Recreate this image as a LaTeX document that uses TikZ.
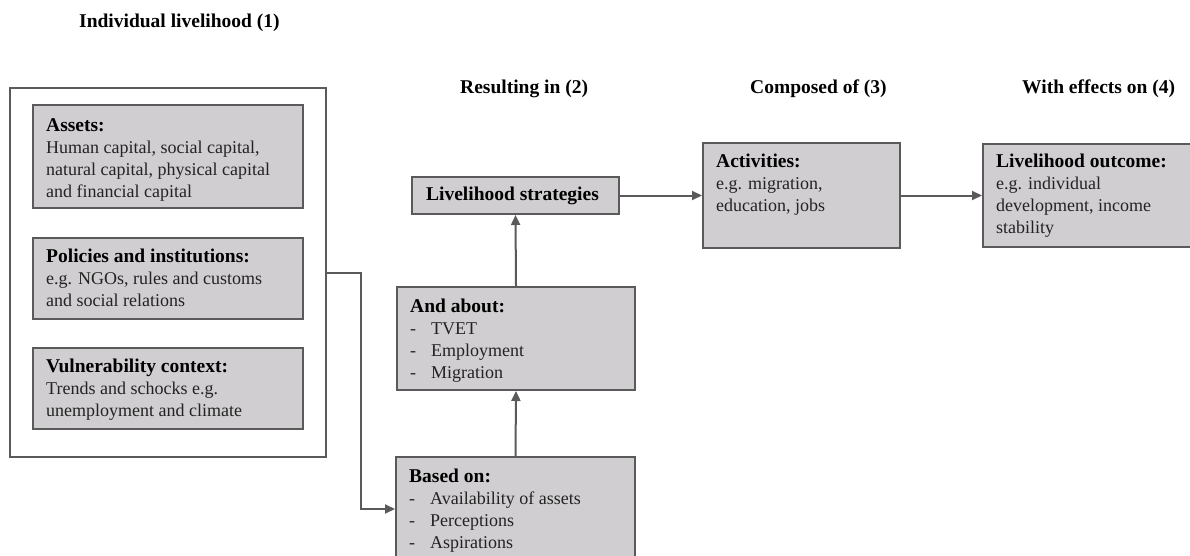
\documentclass[tikz,border=0pt]{standalone}
\usepackage{fontspec}
\setmainfont{Liberation Serif}
\usetikzlibrary{arrows.meta,calc}
\definecolor{boxfill}{RGB}{208,206,208}
\definecolor{boxline}{RGB}{90,90,90}
\definecolor{bodytext}{RGB}{35,35,35}
\newcommand{\hd}[1]{{\fontsize{19.5}{22}\selectfont\bfseries\strut #1}}
\newcommand{\bd}{\fontsize{18}{22}\selectfont\color{bodytext}}
\begin{document}
\begin{tikzpicture}[x=1pt,y=-1pt,
  box/.style={draw=boxline,line width=2pt,fill=boxfill,anchor=north west,inner sep=0pt},
  frame/.style={draw=boxline,line width=2.3pt,anchor=north west,inner sep=0pt},
  txt/.style={anchor=north west,inner sep=0pt,align=left,font=\fontsize{18}{22}\selectfont},
  head/.style={anchor=base west,inner sep=0pt,font=\fontsize{19.5}{22}\selectfont\bfseries},
  arr/.style={draw=boxline,line width=2pt,-{Triangle[length=10pt,width=9pt]}}]
\useasboundingbox (0,0) rectangle (1190,556);
\clip (0,0) rectangle (1190,556);
% headers
\node[head] (h1) at (79,28) {Individual livelihood (1)};
\node[head] (h2) at (460,94) {Resulting in (2)};
\node[head] (h3) at (750,94) {Composed of (3)};
\node[head] (h4) at (1022,94) {With effects on (4)};
% outer frame
\node[frame,minimum width=316pt,minimum height=369pt] (outer) at (9,87) {};
% left boxes
\node[box,minimum width=270pt,minimum height=103pt] (assets) at (32,104) {};
\node[box,minimum width=270pt,minimum height=81pt] (policies) at (32,237) {};
\node[box,minimum width=270pt,minimum height=81pt] (vuln) at (32,347) {};
\node[txt] (assetsT) at ($(assets.north west)+(14,11.6)$) {\hd{Assets:}\\\bd Human capital, social capital,\\\bd natural capital, physical capital\\\bd and financial capital};
\node[txt] (policiesT) at ($(policies.north west)+(14,9.6)$) {\hd{Policies and institutions:}\\\bd e.g. NGOs, rules and customs\\\bd and social relations};
\node[txt] (vulnT) at ($(vuln.north west)+(14,9.6)$) {\hd{Vulnerability context:}\\\bd Trends and schocks e.g.\\\bd unemployment and climate};
% middle column
\node[box,minimum width=207pt,minimum height=37pt,anchor=north west] (ls) at (411,176) {};
\node[anchor=center,inner sep=0pt,font=\fontsize{19.5}{22}\selectfont\bfseries] (lsT) at ($(ls.center)+(-3,0)$) {Livelihood strategies};
\node[box,minimum width=238pt,minimum height=103pt] (about) at (396,286) {};
\node[txt] (aboutT) at ($(about.north west)+(14,10.6)$) {\hd{And about:}\\\bd -\hspace{15pt}TVET\\\bd -\hspace{15pt}Employment\\\bd -\hspace{15pt}Migration};
\node[box,minimum width=239pt,minimum height=104pt] (based) at (395,456) {};
\node[txt] (basedT) at ($(based.north west)+(14,10.6)$) {\hd{Based on:}\\\bd -\hspace{15pt}Availability of assets\\\bd -\hspace{15pt}Perceptions\\\bd -\hspace{15pt}Aspirations};
% right boxes
\node[box,minimum width=197pt,minimum height=105pt] (act) at (702,142) {};
\node[txt] (actT) at ($(act.north west)+(14,9.6)$) {\hd{Activities:}\\\bd e.g. migration,\\\bd education, jobs};
\node[box,minimum width=215pt,minimum height=103pt] (out) at (982,143) {};
\node[txt] (outT) at ($(out.north west)+(14,8.6)$) {\hd{Livelihood outcome:}\\\bd e.g. individual\\\bd development, income\\\bd stability};
% connectors
\coordinate (jx) at (361,0);
\draw[arr] (outer.east) -- (outer.east -| jx) |- (based.west);
\draw[arr] (based.north) -- (about.south);
\draw[arr] (about.north) -- (ls.south);
\draw[arr] (ls.east) -- (act.west);
\draw[arr] (act.east) -- (out.west);
\end{tikzpicture}
\end{document}
